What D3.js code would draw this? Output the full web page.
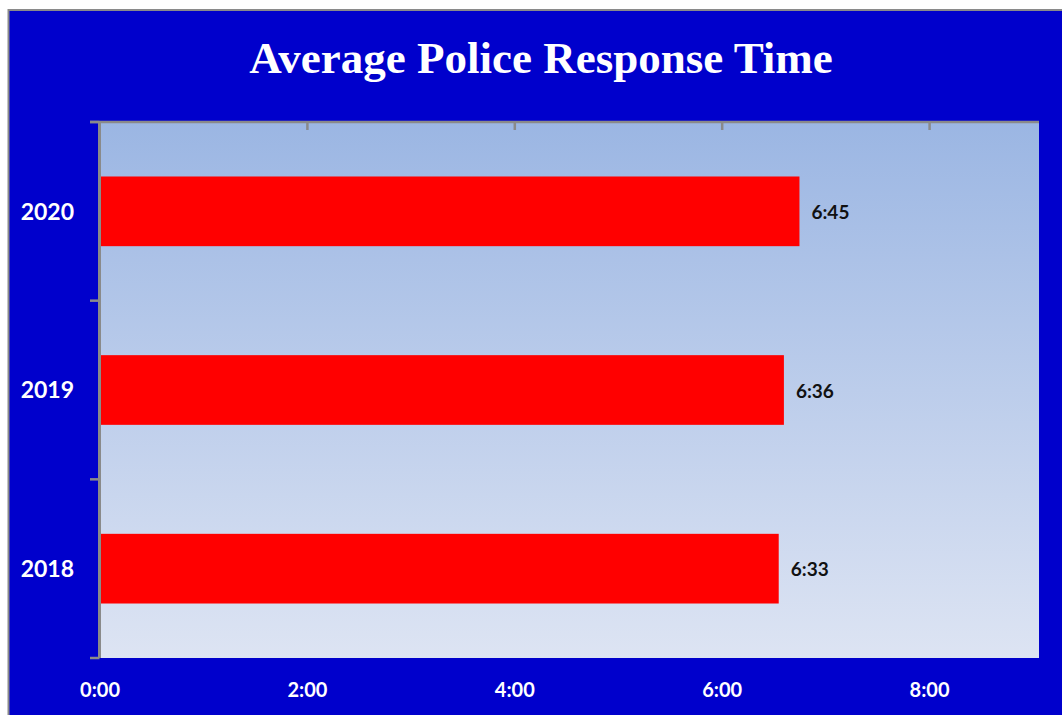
<!DOCTYPE html>
<html><head><meta charset="utf-8">
<script src="https://cdn.jsdelivr.net/npm/d3@7"></script>
<style>html,body{margin:0;padding:0;background:#fff;}svg{display:block;}</style>
</head><body>
<svg id="c" width="1062" height="715"></svg>
<script>
const years = ["2020", "2019", "2018"];
const minutes = [6.75, 6.6, 6.55];          // response time in minutes
const valueLabels = ["6:45", "6:36", "6:33"];
const xTicks = [0, 2, 4, 6, 8];
const xTickLabels = ["0:00", "2:00", "4:00", "6:00", "8:00"];
const xMax = 9.06;
const title = "Average Police Response Time";

const svg = d3.select("#c");
const W = 1062, H = 715;
const plot = {l: 99.5, t: 122, r: 1039, b: 658};

svg.append("rect").attr("x", 8).attr("y", 10).attr("width", W - 8).attr("height", H - 10)
  .attr("fill", "#0000CC");
svg.append("line").attr("x1", 8.5).attr("x2", 8.5).attr("y1", 9).attr("y2", H).attr("stroke", "#8a8a8a").attr("stroke-width", 2);
svg.append("line").attr("x1", 8).attr("x2", W).attr("y1", 10).attr("y2", 10).attr("stroke", "#8a8a8a").attr("stroke-width", 2);

const defs = svg.append("defs");
const g = defs.append("linearGradient").attr("id", "bg").attr("x1", 0).attr("y1", 0).attr("x2", 0).attr("y2", 1);
g.append("stop").attr("offset", "0%").attr("stop-color", "#9BB6E3");
g.append("stop").attr("offset", "100%").attr("stop-color", "#DDE4F3");

svg.append("rect").attr("x", plot.l).attr("y", plot.t).attr("width", plot.r - plot.l).attr("height", plot.b - plot.t)
  .attr("fill", "url(#bg)");

const x = d3.scaleLinear().domain([0, xMax]).range([plot.l, plot.r]);
const y = d3.scaleBand().domain(years).range([plot.t, plot.b]).paddingInner(0.61).paddingOuter(0.305);

// bars
svg.append("g").selectAll("rect").data(years).join("rect")
  .attr("x", x(0)).attr("y", d => y(d))
  .attr("width", (d, i) => x(minutes[i]) - x(0))
  .attr("height", y.bandwidth())
  .attr("fill", "#FF0000");

// value labels
svg.append("g").selectAll("text").data(years).join("text")
  .attr("x", (d, i) => x(minutes[i]) + 12)
  .attr("y", d => y(d) + y.bandwidth() / 2 + 1)
  .attr("dy", "0.35em")
  .attr("font-family", "Lato, 'Open Sans', sans-serif").attr("font-weight", "bold")
  .attr("font-size", 19).attr("fill", "#111")
  .text((d, i) => valueLabels[i]);

// top axis line with inward ticks
const topAxis = d3.axisBottom(x).tickValues(xTicks.slice(1)).tickSize(8).tickFormat("");
const ta = svg.append("g").attr("transform", `translate(0,${plot.t})`).call(topAxis);
ta.select(".domain").remove();
ta.selectAll(".tick line").attr("stroke", "#8a8a8a").attr("stroke-width", 2.5);
svg.append("line").attr("x1", 90).attr("x2", plot.r).attr("y1", plot.t).attr("y2", plot.t)
  .attr("stroke", "#8a8a8a").attr("stroke-width", 2.5);

// bottom tick labels
const bottomAxis = d3.axisBottom(x).tickValues(xTicks).tickSize(0).tickPadding(0)
  .tickFormat((d, i) => xTickLabels[i]);
const ba = svg.append("g").attr("transform", `translate(0,${plot.b + 39})`).call(bottomAxis);
ba.select(".domain").remove();
ba.selectAll("text").attr("fill", "#fff").attr("font-family", "Lato, 'Open Sans', sans-serif")
  .attr("font-weight", "bold").attr("font-size", 20).attr("dy", "0");

// left axis
const boundaries = [plot.t, plot.t + (plot.b - plot.t) / 3, plot.t + 2 * (plot.b - plot.t) / 3, plot.b];
svg.append("line").attr("x1", plot.l).attr("x2", plot.l).attr("y1", plot.t).attr("y2", plot.b)
  .attr("stroke", "#8a8a8a").attr("stroke-width", 3);
svg.append("g").selectAll("line").data(boundaries).join("line")
  .attr("x1", 90).attr("x2", plot.l).attr("y1", d => d).attr("y2", d => d)
  .attr("stroke", "#8a8a8a").attr("stroke-width", 2.5);

const leftAxis = d3.axisLeft(y).tickSize(0).tickPadding(0);
const la = svg.append("g").attr("transform", `translate(74,1)`).call(leftAxis);
la.select(".domain").remove();
la.selectAll("text").attr("fill", "#fff").attr("font-family", "Lato, 'Open Sans', sans-serif")
  .attr("font-weight", "bold").attr("font-size", 23);

// title
svg.append("text").attr("x", 541).attr("y", 73).attr("text-anchor", "middle")
  .attr("font-family", "'Liberation Serif', 'DejaVu Serif', serif").attr("font-weight", "bold")
  .attr("font-size", 45).attr("fill", "#fff").text(title);
</script>
</body></html>
